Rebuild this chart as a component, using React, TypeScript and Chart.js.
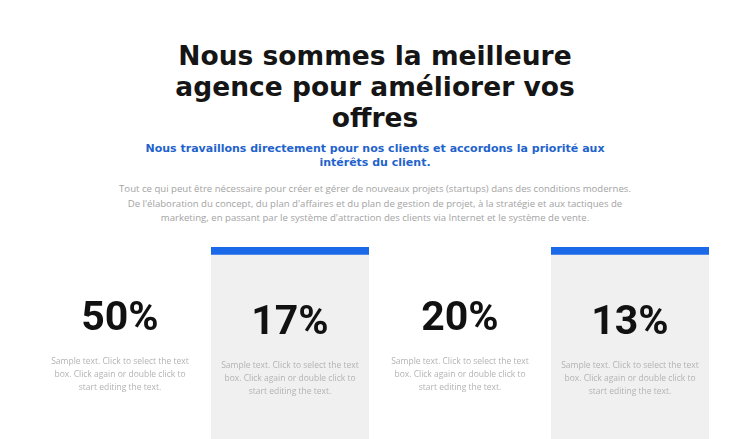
import React, { useEffect, useRef } from "react";
import { Chart, registerables } from "chart.js";

Chart.register(...registerables);

// ---- data ----
const categories = ["Carte 1", "Carte 2", "Carte 3", "Carte 4"];
const percentValues = [50, 17, 20, 13];
const highlighted = [false, true, false, true];
const cardRange: ([number, number] | null)[] = [null, [0, 100], null, [0, 100]];
const stripRange: ([number, number] | null)[] = [null, [96, 100], null, [96, 100]];
const sampleLines = [
  "Sample text. Click to select the text",
  "box. Click again or double click to",
  "start editing the text.",
];
const titleLines = ["Nous sommes la meilleure", "agence pour améliorer vos", "offres"];
const subtitleLines = [
  "Nous travaillons directement pour nos clients et accordons la priorité aux",
  "intérêts du client.",
];
const paragraphLines = [
  "Tout ce qui peut être nécessaire pour créer et gérer de nouveaux projets (startups) dans des conditions modernes.",
  "De l'élaboration du concept, du plan d'affaires et du plan de gestion de projet, à la stratégie et aux tactiques de",
  "marketing, en passant par le système d'attraction des clients via Internet et le système de vente.",
];

const cardLabels = {
  id: "cardLabels",
  afterDatasetsDraw(chart: any) {
    const { ctx, scales, chartArea } = chart;
    const x = scales.x;
    ctx.save();
    ctx.textAlign = "center";
    ctx.textBaseline = "middle";
    percentValues.forEach((v, i) => {
      const cx = x.getPixelForValue(i);
      const off = highlighted[i] ? 4 : 0;
      ctx.font = "bold 41px Roboto";
      ctx.fillStyle = "#111111";
      ctx.fillText(v + "%", cx, chartArea.top + 73 + off);
      ctx.font = "8.5px 'Open Sans'";
      ctx.fillStyle = "#b3b3b3";
      sampleLines.forEach((line, j) => {
        ctx.fillText(line, cx, chartArea.top + 115 + off + j * 13);
      });
    });
    ctx.restore();
  },
};

function Cards() {
  const ref = useRef<HTMLCanvasElement | null>(null);
  useEffect(() => {
    if (!ref.current) return;
    const chart = new Chart(ref.current, {
      type: "bar",
      data: {
        labels: categories,
        datasets: [
          {
            label: "Bande",
            data: stripRange as any,
            backgroundColor: "#1a69e8",
            barPercentage: 1,
            categoryPercentage: 158 / 170,
            borderSkipped: false,
            order: 0,
          },
          {
            label: "Fond",
            data: cardRange as any,
            backgroundColor: "#f0f0f0",
            barPercentage: 1,
            categoryPercentage: 158 / 170,
            borderSkipped: false,
            order: 1,
          },
        ],
      },
      options: {
        responsive: false,
        animation: false,
        devicePixelRatio: 1,
        layout: { padding: { left: 35, right: 35, top: 7, bottom: 0 } },
        plugins: { legend: { display: false }, tooltip: { enabled: false } },
        scales: {
          x: { display: false, stacked: true },
          y: { display: false, min: 0, max: 100, stacked: false },
        },
      },
      plugins: [cardLabels],
    });
    return () => chart.destroy();
  }, []);
  return (
    <canvas
      ref={ref}
      width={750}
      height={199}
      style={{ position: "absolute", left: 0, top: 240, width: 750, height: 199 }}
    />
  );
}

export default function App() {
  return (
    <div
      style={{
        position: "fixed",
        left: 0,
        top: 0,
        width: 750,
        height: 439,
        background: "#ffffff",
        overflow: "hidden",
      }}
    >
      <div
        style={{
          position: "absolute",
          left: 0,
          top: 40,
          width: 750,
          textAlign: "center",
          fontFamily: "'DejaVu Sans', sans-serif",
          fontWeight: 700,
          fontSize: 26.5,
          lineHeight: "31px",
          color: "#151515",
          whiteSpace: "nowrap",
        }}
      >
        {titleLines.map((l, i) => (
          <div key={i}>{l}</div>
        ))}
      </div>
      <div
        style={{
          position: "absolute",
          left: 0,
          top: 142,
          width: 750,
          textAlign: "center",
          fontFamily: "'DejaVu Sans', sans-serif",
          fontWeight: 700,
          fontSize: 11,
          lineHeight: "14px",
          color: "#1f63cc",
          whiteSpace: "nowrap",
        }}
      >
        {subtitleLines.map((l, i) => (
          <div key={i}>{l}</div>
        ))}
      </div>
      <div
        style={{
          position: "absolute",
          left: 0,
          top: 182,
          width: 750,
          textAlign: "center",
          fontFamily: "'Open Sans', sans-serif",
          fontSize: 9.6,
          lineHeight: "14.5px",
          color: "#a3a3a3",
          whiteSpace: "nowrap",
        }}
      >
        {paragraphLines.map((l, i) => (
          <div key={i}>{l}</div>
        ))}
      </div>
      <Cards />
    </div>
  );
}
